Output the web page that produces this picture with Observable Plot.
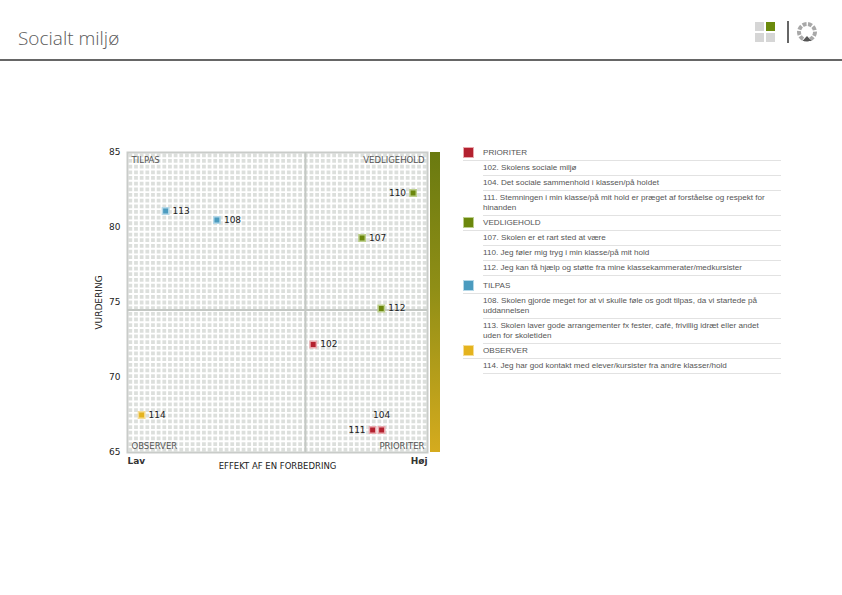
<!DOCTYPE html>
<html>
<head>
<meta charset="utf-8">
<script src="https://cdn.jsdelivr.net/npm/d3@7"></script>
<script src="https://cdn.jsdelivr.net/npm/@observablehq/plot@0.6"></script>
<style>
  html, body { margin: 0; padding: 0; background: #fff; }
  body { width: 842px; height: 595px; position: relative; overflow: hidden; font-family: "DejaVu Sans", sans-serif; }
  #title { position: absolute; left: 18px; top: 25px; font-family: "Open Sans", "Noto Sans", sans-serif; font-size: 19px; color: #5a5a5a; font-weight: 300; }
  #hr { position: absolute; left: 0; top: 59px; width: 842px; height: 2px; background: #666; }
  #logo { position: absolute; left: 752px; top: 18px; }
  #chart { position: absolute; left: 80px; top: 130px; }
  #bar { position: absolute; left: 430px; top: 152px; width: 10px; height: 300px; background: linear-gradient(to bottom, #6a7a10 0%, #8f8e16 45%, #d5ab1e 100%); }
  .grp { position: absolute; left: 463px; width: 318px; font-family: "Liberation Sans", Arial, sans-serif; font-size: 8.1px; color: #555; }
  .hdr { position: relative; height: 14px; line-height: 14px; padding-left: 20px; border-bottom: 1px solid #e2e2e2; }
  .sw { position: absolute; left: 0px; top: 1px; width: 9px; height: 9px; border: 1.5px solid; }
  .row { margin-left: 20px; padding: 2px 0; line-height: 10px; border-bottom: 1px solid #e2e2e2; white-space: pre-line; }
</style>
</head>
<body>
<div id="title"></div>
<div id="hr"></div>
<svg id="logo" width="70" height="30" viewBox="0 0 70 30">
  <rect x="3" y="4" width="9" height="9" fill="#d6d6d6"/>
  <rect x="14" y="4" width="9" height="9" fill="#6b8a0c"/>
  <rect x="3" y="15" width="9" height="9" fill="#d6d6d6"/>
  <rect x="14" y="15" width="9" height="9" fill="#d6d6d6"/>
  <rect x="35" y="3" width="2" height="22" fill="#666"/>
  <circle cx="55" cy="14" r="8" fill="none" stroke="#a8a8a8" stroke-width="4" stroke-dasharray="4 1.5"/>
  <path d="M50.5 23 L55 18 L59.5 23 Z" fill="#555"/>
</svg>
<div id="chart"></div>
<div id="bar"></div>
<div id="legend"></div>
<script>
// ---- data ----
const title = "Socialt miljø";
const ids       = ["102", "104", "107", "108", "110", "111", "112", "113", "114"];
const effekt    = [61.9, 84.7, 78.2, 29.8, 95.2, 81.7, 84.6, 12.7, 4.7];
const vurdering = [72.2, 66.5, 79.3, 80.5, 82.3, 66.5, 74.6, 81.1, 67.5];
const kategori  = ["PRIORITER", "PRIORITER", "VEDLIGEHOLD", "TILPAS", "VEDLIGEHOLD", "PRIORITER", "VEDLIGEHOLD", "TILPAS", "OBSERVER"];
const categories = ["PRIORITER", "VEDLIGEHOLD", "TILPAS", "OBSERVER"];
const yTicks = [65, 70, 75, 80, 85];
const thresholdX = [59.3];
const thresholdY = [74.5];
const yLabel = "VURDERING";
const xLabel = "EFFEKT AF EN FORBEDRING";
const xEnds = ["Lav", "Høj"];
const legendItems = {
  "PRIORITER": [
    "102. Skolens sociale miljø",
    "104. Det sociale sammenhold i klassen/på holdet",
    "111. Stemningen i min klasse/på mit hold er præget af forståelse og respekt for\nhinanden"
  ],
  "VEDLIGEHOLD": [
    "107. Skolen er et rart sted at være",
    "110. Jeg føler mig tryg i min klasse/på mit hold",
    "112. Jeg kan få hjælp og støtte fra mine klassekammerater/medkursister"
  ],
  "TILPAS": [
    "108. Skolen gjorde meget for at vi skulle føle os godt tilpas, da vi startede på\nuddannelsen",
    "113. Skolen laver gode arrangementer fx fester, café, frivillig idræt eller andet\nuden for skoletiden"
  ],
  "OBSERVER": [
    "114. Jeg har god kontakt med elever/kursister fra andre klasser/hold"
  ]
};

// ---- styles ----
const fillColors = {PRIORITER: "#b3212f", VEDLIGEHOLD: "#6b870c", TILPAS: "#4b9bbf", OBSERVER: "#e4b31e"};
const haloColors = {PRIORITER: "#e9a9ae", VEDLIGEHOLD: "#bccf8c", TILPAS: "#b4d8e8", OBSERVER: "#f5dd96"};
const labelStyle = {
  "102": {dx: 7, anchor: "start", dy: 0}, "104": {dx: 0, anchor: "middle", dy: -15},
  "107": {dx: 7, anchor: "start", dy: 0}, "108": {dx: 7, anchor: "start", dy: 0},
  "110": {dx: -7, anchor: "end", dy: 0}, "111": {dx: -7, anchor: "end", dy: 0},
  "112": {dx: 7, anchor: "start", dy: 0}, "113": {dx: 7, anchor: "start", dy: 0},
  "114": {dx: 7, anchor: "start", dy: 0}
};

document.getElementById("title").textContent = title;

const points = ids.map((id, i) => ({id, x: effekt[i], y: vurdering[i], k: kategori[i]}));
const gridX = d3.range(0, 100.01, 100 / 53);
const gridY = d3.range(65, 85.01, 20 / 53);

const chart = Plot.plot({
  width: 360, height: 350,
  marginLeft: 47, marginRight: 13, marginTop: 22, marginBottom: 28,
  x: {domain: [0, 100], axis: null},
  y: {domain: [65, 85], ticks: yTicks, tickSize: 0, tickPadding: 7, label: yLabel, labelAnchor: "center", labelArrow: "none", labelOffset: 32},
  style: {fontFamily: "DejaVu Sans, sans-serif", fontSize: "9px", color: "#222", background: "transparent", overflow: "visible"},
  marks: [
    Plot.frame({fill: "#dcdfdc"}),
    Plot.ruleX(gridX, {stroke: "#fff", strokeWidth: 1.9}),
    Plot.ruleY(gridY, {stroke: "#fff", strokeWidth: 1.9}),
    Plot.frame({stroke: "#c9ccc9", strokeWidth: 2}),
    Plot.ruleX(thresholdX, {stroke: "#c4c8c4", strokeWidth: 2}),
    Plot.ruleY(thresholdY, {stroke: "#c4c8c4", strokeWidth: 2}),
    Plot.text(["TILPAS"], {frameAnchor: "top-left", dx: 4, dy: 4, lineAnchor: "top", fill: "#555", fontSize: 8.5}),
    Plot.text(["VEDLIGEHOLD"], {frameAnchor: "top-right", dx: -3, dy: 4, lineAnchor: "top", fill: "#555", fontSize: 8.5}),
    Plot.text(["OBSERVER"], {frameAnchor: "bottom-left", dx: 4, dy: -4, lineAnchor: "bottom", fill: "#555", fontSize: 8.5}),
    Plot.text(["PRIORITER"], {frameAnchor: "bottom-right", dx: -3, dy: -4, lineAnchor: "bottom", fill: "#555", fontSize: 8.5}),
    Plot.dot(points, {x: "x", y: "y", symbol: "square", r: 3.6, fill: d => fillColors[d.k], stroke: d => haloColors[d.k], strokeWidth: 1.5}),
    ...points.map(p => Plot.text([p], {x: "x", y: "y", text: "id", textAnchor: labelStyle[p.id].anchor, dx: labelStyle[p.id].dx, dy: labelStyle[p.id].dy, fill: "#222", fontSize: 9})),
    Plot.text([xEnds[0]], {x: [0], frameAnchor: "bottom", dy: 5, lineAnchor: "top", textAnchor: "start", fontWeight: "bold", fill: "#333", fontSize: 9}),
    Plot.text([xEnds[1]], {x: [100], frameAnchor: "bottom", dy: 5, lineAnchor: "top", textAnchor: "end", fontWeight: "bold", fill: "#333", fontSize: 9}),
    Plot.text([xLabel], {frameAnchor: "bottom", dy: 10, lineAnchor: "top", fill: "#222", fontSize: 8.5})
  ]
});
document.getElementById("chart").appendChild(chart);

// legend
const groupTops = {PRIORITER: 146, VEDLIGEHOLD: 216, TILPAS: 279, OBSERVER: 344};
const legend = document.getElementById("legend");
categories.forEach(c => {
  const g = document.createElement("div");
  g.className = "grp";
  g.style.top = groupTops[c] + "px";
  const h = document.createElement("div");
  h.className = "hdr";
  const sw = document.createElement("span");
  sw.className = "sw";
  sw.style.background = fillColors[c];
  sw.style.borderColor = haloColors[c];
  h.appendChild(sw);
  h.appendChild(document.createTextNode(c));
  g.appendChild(h);
  legendItems[c].forEach(t => {
    const r = document.createElement("div");
    r.className = "row";
    r.textContent = t;
    g.appendChild(r);
  });
  legend.appendChild(g);
});
</script>
</body>
</html>
